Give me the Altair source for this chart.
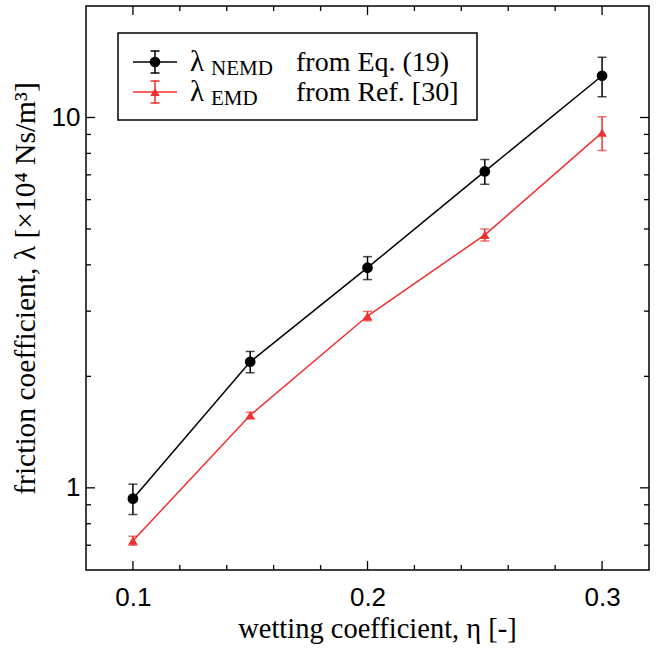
import altair as alt
import pandas as pd

# Wetting coefficient and friction coefficient (x10^4 Ns/m^3)
eta = [0.10, 0.15, 0.20, 0.25, 0.30]
lam_nemd = [0.935, 2.19, 3.93, 7.15, 12.96]
lam_nemd_err = [0.088, 0.145, 0.28, 0.55, 1.58]
lam_emd = [0.72, 1.57, 2.91, 4.82, 9.1]
lam_emd_err = [0.02, 0.03, 0.085, 0.18, 0.95]

x_major = [0.1, 0.2, 0.3]
x_minor = [0.12, 0.14, 0.16, 0.18, 0.22, 0.24, 0.26, 0.28]
y_major = [1, 10]
y_minor = [0.7, 0.8, 0.9, 2, 3, 4, 5, 6, 7, 8, 9]

W, H = 563, 564
RED = "#f03030"
SERIF = "Liberation Serif"
SANS = "Liberation Sans"

nemd = pd.DataFrame({"eta": eta, "lam": lam_nemd,
                     "lo": [v - e for v, e in zip(lam_nemd, lam_nemd_err)],
                     "hi": [v + e for v, e in zip(lam_nemd, lam_nemd_err)]})
emd = pd.DataFrame({"eta": eta, "lam": lam_emd,
                    "lo": [v - e for v, e in zip(lam_emd, lam_emd_err)],
                    "hi": [v + e for v, e in zip(lam_emd, lam_emd_err)]})

xs = alt.Scale(domain=[0.08, 0.32], nice=False, zero=False)
ys = alt.Scale(type="log", domain=[0.6, 20], nice=False)

x_axis = alt.Axis(values=x_major, format=".1f", ticks=False, domain=False, grid=False,
                  labelFont=SANS, labelFontSize=26, labelPadding=14, labelColor="black",
                  title="wetting coefficient, η [-]", titleFont=SERIF, titleFontSize=28.5,
                  titleFontWeight="normal", titleColor="black", titlePadding=4,
                  titleX=291)
y_axis = alt.Axis(values=y_major, format="~g", ticks=False, domain=False, grid=False,
                  labelFont=SANS, labelFontSize=26, labelPadding=6, labelColor="black",
                  title="friction coefficient, λ [×10⁴ Ns/m³]", titleFont=SERIF,
                  titleFontSize=29.5, titleFontWeight="normal", titleColor="black",
                  titlePadding=11)


def X(field):
    return alt.X(field, scale=xs, axis=x_axis)


def Y(field):
    return alt.Y(field, scale=ys, axis=y_axis)


def series(df, color, shape, size):
    base = alt.Chart(df)
    line = base.mark_line(color=color, strokeWidth=1.5).encode(x=X("eta:Q"), y=Y("lam:Q"))
    bar = base.mark_rule(color=color, strokeWidth=1.5).encode(
        x=X("eta:Q"), y=Y("lo:Q"), y2="hi:Q")
    cap_lo = base.mark_tick(color=color, orient="horizontal", size=9, thickness=1.5).encode(
        x=X("eta:Q"), y=Y("lo:Q"))
    cap_hi = base.mark_tick(color=color, orient="horizontal", size=9, thickness=1.5).encode(
        x=X("eta:Q"), y=Y("hi:Q"))
    pts = base.mark_point(color=color, fill=color, filled=True, opacity=1, shape=shape,
                          size=size).encode(x=X("eta:Q"), y=Y("lam:Q"))
    return [line, bar, cap_lo, cap_hi, pts]


def xticks(vals, length):
    d = alt.Chart(pd.DataFrame({"eta": vals}))
    bottom = d.mark_rule(color="black", strokeWidth=1.3).encode(
        x=X("eta:Q"), y=alt.value(H), y2=alt.value(H - length))
    top = d.mark_rule(color="black", strokeWidth=1.3).encode(
        x=X("eta:Q"), y=alt.value(0), y2=alt.value(length))
    return [bottom, top]


def yticks(vals, length):
    d = alt.Chart(pd.DataFrame({"lam": vals}))
    left = d.mark_rule(color="black", strokeWidth=1.3).encode(
        y=Y("lam:Q"), x=alt.value(0), x2=alt.value(length))
    right = d.mark_rule(color="black", strokeWidth=1.3).encode(
        y=Y("lam:Q"), x=alt.value(W), x2=alt.value(W - length))
    return [left, right]


# Legend drawn in pixel space of the plot area
one = alt.Chart(pd.DataFrame({"k": [0]}))
LX0, LX1, LY0, LY1 = 32, 391, 27, 114
legend_box = one.mark_rect(fill="white", stroke="black", strokeWidth=1.5).encode(
    x=alt.value(LX0), x2=alt.value(LX1), y=alt.value(LY0), y2=alt.value(LY1))


def legend_row(yc, color, shape, size, sub, text):
    return [
        one.mark_rule(color=color, strokeWidth=1.5).encode(
            x=alt.value(47), x2=alt.value(91), y=alt.value(yc)),
        one.mark_rule(color=color, strokeWidth=1.5).encode(
            x=alt.value(69), y=alt.value(yc - 11), y2=alt.value(yc + 11)),
        one.mark_rule(color=color, strokeWidth=1.5).encode(
            x=alt.value(64.5), x2=alt.value(73.5), y=alt.value(yc - 11)),
        one.mark_rule(color=color, strokeWidth=1.5).encode(
            x=alt.value(64.5), x2=alt.value(73.5), y=alt.value(yc + 11)),
        one.mark_point(color=color, fill=color, filled=True, opacity=1, shape=shape,
                       size=size).encode(x=alt.value(69), y=alt.value(yc)),
        one.mark_text(font=SERIF, fontSize=29, align="left", baseline="alphabetic",
                      color="black").encode(x=alt.value(104), y=alt.value(yc + 9),
                                            text=alt.value("λ")),
        one.mark_text(font=SERIF, fontSize=21, align="left", baseline="alphabetic",
                      color="black").encode(x=alt.value(125), y=alt.value(yc + 13),
                                            text=alt.value(sub)),
        one.mark_text(font=SERIF, fontSize=28, align="left", baseline="alphabetic",
                      color="black").encode(x=alt.value(210), y=alt.value(yc + 9),
                                            text=alt.value(text)),
    ]


layers = []
layers += xticks(x_major, 9) + xticks(x_minor, 5)
layers += yticks(y_major, 9) + yticks(y_minor, 5)
layers += series(emd, RED, "triangle-up", 90)
layers += series(nemd, "black", "circle", 115)
layers += [legend_box]
layers += legend_row(56, "black", "circle", 115, "NEMD", "from Eq. (19)")
layers += legend_row(86, RED, "triangle-up", 90, "EMD", "from Ref. [30]")

chart = alt.layer(*layers).properties(
    width=W, height=H,
    autosize=alt.AutoSizeParams(type="none"),
    padding={"left": 86, "top": 6, "right": 8, "bottom": 79},
).configure(background="white").configure_view(stroke="black", strokeWidth=1.5)

chart.save("out.html", embed_options={"renderer": "svg", "actions": False})
